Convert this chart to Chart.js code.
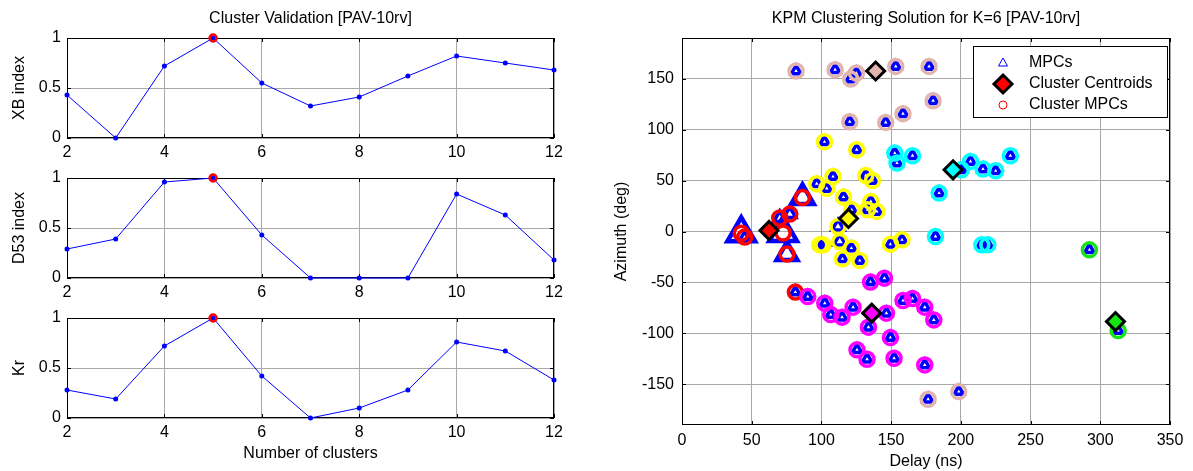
<!DOCTYPE html>
<html>
<head>
<meta charset="utf-8">
<title>Cluster Validation / KPM Clustering</title>
<script src="https://cdn.jsdelivr.net/npm/chart.js@4.4.0/dist/chart.umd.min.js"></script>
<style>
  body { margin: 0; background: #fff; }
  #wrap { position: relative; width: 1193px; height: 471px; }
  canvas { position: absolute; }
</style>
</head>
<body>
<div id="wrap">
  <canvas id="xb" width="600" height="160" style="left:0;top:0"></canvas>
  <canvas id="d53" width="600" height="140" style="left:0;top:160px"></canvas>
  <canvas id="kr" width="600" height="171" style="left:0;top:300px"></canvas>
  <canvas id="kpm" width="593" height="471" style="left:600px;top:0"></canvas>
</div>

<script>
// ---- cluster validation (left) ----
var nClusters = [2, 3, 4, 5, 6, 7, 8, 9, 10, 11, 12];
var xbIndex  = [0.43, 0, 0.72, 1, 0.55, 0.32, 0.41, 0.62, 0.82, 0.75, 0.68];
var d53Index = [0.29, 0.39, 0.96, 1, 0.43, 0, 0, 0, 0.84, 0.63, 0.18];
var krIndex  = [0.28, 0.19, 0.72, 1, 0.42, 0, 0.10, 0.28, 0.76, 0.67, 0.38];
var bestK = 5;
var kTicks = [2, 4, 6, 8, 10, 12];
var indexTicks = [0, 0.5, 1];

// ---- KPM clustering solution (right) ----
// one row per cluster: red, yellow, cyan, pink, magenta, green
var mpcDelay = [
  42.5, 45.0, 72.5, 70.1, 77.3, 75.3, 86.4, 81.3,
  102.2, 125.3, 108.3, 96.6, 103.8, 115.8, 131.8, 136.6, 135.4, 133.0, 139.7, 121.7, 111.9, 98.8, 101.1, 113.1, 121.5, 115.1, 127.5, 149.5, 157.8,
  152.6, 154.2, 165.3, 184.4, 200.4, 206.9, 215.9, 225.0, 235.5, 181.8, 215.0, 219.3,
  81.8, 109.8, 121.0, 125.1, 153.3, 177.2, 180.1, 158.5, 146.1, 120.3, 176.5, 198.5,
  135.2, 145.2, 90.2, 102.4, 106.7, 114.8, 122.7, 146.6, 133.7, 158.5, 165.3, 174.1, 180.6, 149.5, 125.5, 132.7, 152.1, 174.1,
  292.2, 312.8
];
var mpcAzimuth = [
  -1.8, -5.5, -1.5, 13.2, 17.1, -22.2, 33.4, -59.5,
  88.1, 80.3, 54.0, 46.9, 42.3, 33.8, 55.0, 50.1, 29.5, 21.3, 19.7, 21.3, 4.9, -13.1, -13.1, -9.8, -16.3, -26.8, -28.5, -12.4, -8.2,
  77.0, 67.2, 74.4, 37.7, 60.6, 68.8, 61.3, 59.6, 74.4, -4.9, -13.1, -13.1,
  157.6, 158.9, 149.8, 155.6, 162.1, 162.1, 128.4, 115.7, 107.1, 107.8, -164.7, -157.2,
  -49.7, -45.8, -63.9, -70.4, -81.6, -84.1, -74.3, -80.2, -93.9, -67.8, -65.8, -74.3, -86.8, -104.2, -116.2, -125.4, -124.4, -131.0,
  -18.0, -97.3
];
var mpcSize = [
  16, 5.5, 16, 7, 7, 12, 13, 5.5,
  5.5, 5.5, 5.5, 5.5, 5.5, 5.5, 5.5, 5.5, 5.5, 5.5, 5.5, 5.5, 7, 5.5, 5.5, 7, 5.5, 5.5, 5.5, 5.5, 5.5,
  5.5, 5.5, 5.5, 5.5, 5.5, 5.5, 5.5, 5.5, 5.5, 5.5, 5.5, 5.5,
  5.5, 5.5, 5.5, 5.5, 5.5, 5.5, 5.5, 5.5, 5.5, 5.5, 5.5, 5.5,
  5.5, 5.5, 5.5, 5.5, 5.5, 5.5, 5.5, 5.5, 5.5, 5.5, 5.5, 5.5, 5.5, 5.5, 5.5, 5.5, 5.5, 5.5,
  5.5, 5.5
];
var mpcCluster = [
  0, 0, 0, 0, 0, 0, 0, 0,
  1, 1, 1, 1, 1, 1, 1, 1, 1, 1, 1, 1, 1, 1, 1, 1, 1, 1, 1, 1, 1,
  2, 2, 2, 2, 2, 2, 2, 2, 2, 2, 2, 2,
  3, 3, 3, 3, 3, 3, 3, 3, 3, 3, 3, 3,
  4, 4, 4, 4, 4, 4, 4, 4, 4, 4, 4, 4, 4, 4, 4, 4, 4, 4,
  5, 5
];
var centroidDelay   = [62.4, 119.4, 194.4, 138.9, 136.1, 310.9];
var centroidAzimuth = [1.0, 12.8, 60.6, 157.6, -80.2, -88.4];
var clusterColors = ['#ff0000', '#ffff00', '#00ffff', '#e2b4ae', '#ff00ff', '#14e614'];
var delayTicks = [0, 50, 100, 150, 200, 250, 300, 350];
var azimuthTicks = [-150, -100, -50, 0, 50, 100, 150];
var legendLabels = ['MPCs', 'Cluster Centroids', 'Cluster MPCs'];

Chart.defaults.font.family = 'Liberation Sans, Arial, sans-serif';
Chart.defaults.font.size = 16;
Chart.defaults.color = '#000';

var gridColor = '#a8a8a8';

// matlab-like box with inward ticks, drawn under the data
var boxPlugin = {
  id: 'box',
  beforeDatasetsDraw: function(chart) {
    var a = chart.chartArea, ctx = chart.ctx;
    var xs = chart.scales.x, ys = chart.scales.y;
    ctx.save();
    ctx.strokeStyle = '#000';
    ctx.lineWidth = 1;
    ctx.strokeRect(a.left + 0.5, a.top + 0.5, a.right - a.left - 1, a.bottom - a.top - 1);
    ctx.beginPath();
    xs.ticks.forEach(function(t) {
      var p = Math.round(xs.getPixelForValue(t.value)) + 0.5;
      ctx.moveTo(p, a.top); ctx.lineTo(p, a.top + 4);
      ctx.moveTo(p, a.bottom); ctx.lineTo(p, a.bottom - 4);
    });
    ys.ticks.forEach(function(t) {
      var p = Math.round(ys.getPixelForValue(t.value)) + 0.5;
      ctx.moveTo(a.left, p); ctx.lineTo(a.left + 4, p);
      ctx.moveTo(a.right, p); ctx.lineTo(a.right - 4, p);
    });
    ctx.stroke();
    ctx.restore();
  }
};

function plainTick(v) { return String(v); }

function indexChart(id, values, yLabel, opts) {
  var pts = nClusters.map(function(k, i) { return {x: k, y: values[i]}; });
  var best = pts.filter(function(p) { return p.x === bestK; });
  new Chart(document.getElementById(id), {
    type: 'scatter',
    data: {
      datasets: [
        { data: best, showLine: false, pointRadius: 3.5, pointBorderWidth: 2.5,
          pointBorderColor: '#ff0000', pointBackgroundColor: 'rgba(0,0,0,0)', clip: false },
        { data: pts, showLine: true, borderColor: '#0000ff', borderWidth: 1,
          pointRadius: 2.5, pointBorderWidth: 0, pointBackgroundColor: '#0000ff', clip: false }
      ]
    },
    options: {
      responsive: false,
      animation: false,
      events: [],
      layout: { padding: { top: opts.top, right: 46, left: 0, bottom: 0 } },
      plugins: {
        legend: { display: false },
        tooltip: { enabled: false },
        title: {
          display: !!opts.title, text: opts.title || '', fullSize: false,
          font: { size: 16, weight: 'normal' }, padding: { top: 9, bottom: 9.8 }
        }
      },
      scales: {
        x: {
          type: 'linear', min: 2, max: 12,
          afterBuildTicks: function(s) { s.ticks = kTicks.map(function(v) { return {value: v}; }); },
          afterFit: function(s) { s.height = opts.xh; },
          grid: { color: gridColor, drawTicks: false },
          border: { display: false },
          ticks: { padding: 5, maxRotation: 0, autoSkip: false, callback: plainTick },
          title: { display: !!opts.xTitle, text: opts.xTitle || '', padding: { top: 0, bottom: 7.4 } }
        },
        y: {
          min: 0, max: 1,
          afterBuildTicks: function(s) { s.ticks = indexTicks.map(function(v) { return {value: v}; }); },
          afterFit: function(s) { s.width = 67; },
          grid: { color: gridColor, drawTicks: false },
          border: { display: false },
          ticks: { padding: 6, callback: plainTick },
          title: { display: true, text: yLabel, padding: { top: 10, bottom: 0 } }
        }
      }
    },
    plugins: [boxPlugin]
  });
}

indexChart('xb', xbIndex, 'XB index', { top: 0, xh: 22, title: 'Cluster Validation [PAV-10rv]' });
indexChart('d53', d53Index, 'D53 index', { top: 18, xh: 22 });
indexChart('kr', krIndex, 'Kr', { top: 18, xh: 53, xTitle: 'Number of clusters' });

// legend box in the upper right of the plot
var legendPlugin = {
  id: 'kpmLegend',
  afterDraw: function(chart) {
    var ctx = chart.ctx, a = chart.chartArea;
    var bx = a.right - 197, by = a.top + 8, bw = 194, bh = 71;
    var mx = bx + 30, tx = bx + 56;
    var rows = [by + 17, by + 38, by + 59];
    ctx.save();
    ctx.fillStyle = '#fff';
    ctx.fillRect(bx, by, bw, bh);
    ctx.strokeStyle = '#000';
    ctx.lineWidth = 1;
    ctx.strokeRect(bx + 0.5, by + 0.5, bw, bh);

    // triangle
    ctx.beginPath();
    ctx.strokeStyle = '#0000ff';
    ctx.moveTo(mx, rows[0] - 5);
    ctx.lineTo(mx + 4.5, rows[0] + 3);
    ctx.lineTo(mx - 4.5, rows[0] + 3);
    ctx.closePath();
    ctx.stroke();
    // diamond
    ctx.beginPath();
    ctx.moveTo(mx, rows[1] - 9);
    ctx.lineTo(mx + 9, rows[1]);
    ctx.lineTo(mx, rows[1] + 9);
    ctx.lineTo(mx - 9, rows[1]);
    ctx.closePath();
    ctx.fillStyle = '#ff0000';
    ctx.fill();
    ctx.lineWidth = 3;
    ctx.strokeStyle = '#000';
    ctx.stroke();
    // circle
    ctx.beginPath();
    ctx.lineWidth = 1;
    ctx.strokeStyle = '#ff0000';
    ctx.arc(mx, rows[2], 4, 0, Math.PI * 2);
    ctx.stroke();

    ctx.fillStyle = '#000';
    ctx.font = '16px Liberation Sans, Arial, sans-serif';
    ctx.textBaseline = 'middle';
    legendLabels.forEach(function(t, i) { ctx.fillText(t, tx, rows[i]); });
    ctx.restore();
  }
};

var mpcPoints = mpcDelay.map(function(d, i) { return {x: d, y: mpcAzimuth[i]}; });
var centroidPoints = centroidDelay.map(function(d, i) { return {x: d, y: centroidAzimuth[i]}; });

new Chart(document.getElementById('kpm'), {
  type: 'scatter',
  data: {
    datasets: [
      { label: 'Cluster Centroids', data: centroidPoints, pointStyle: 'rectRot', pointRadius: 9,
        pointBorderWidth: 3, pointBorderColor: '#000', pointBackgroundColor: clusterColors, clip: false },
      { label: 'Cluster MPCs', data: mpcPoints, pointStyle: 'circle', pointRadius: 7, pointBorderWidth: 3.5,
        pointBorderColor: mpcCluster.map(function(c) { return clusterColors[c]; }),
        pointBackgroundColor: 'rgba(0,0,0,0)', clip: false },
      { label: 'MPCs', data: mpcPoints, pointStyle: 'triangle', pointRadius: mpcSize,
        pointBorderWidth: mpcSize.map(function(s) { return s > 10 ? 4.5 : 3.5; }),
        pointBorderColor: '#0000ff', pointBackgroundColor: 'rgba(0,0,0,0)', clip: false }
    ]
  },
  options: {
    responsive: false,
    animation: false,
    events: [],
    layout: { padding: { top: 0, right: 23, left: 0, bottom: 0 } },
    plugins: {
      legend: { display: false },
      tooltip: { enabled: false },
      title: {
        display: true, text: 'KPM Clustering Solution for K=6 [PAV-10rv]', fullSize: false,
        font: { size: 16, weight: 'normal' }, padding: { top: 9, bottom: 9.8 }
      }
    },
    scales: {
      x: {
        type: 'linear', min: 0, max: 350,
        afterBuildTicks: function(s) { s.ticks = delayTicks.map(function(v) { return {value: v}; }); },
        afterFit: function(s) { s.height = 46; },
        grid: { color: gridColor, drawTicks: false },
        border: { display: false },
        ticks: { padding: 6, maxRotation: 0, autoSkip: false, callback: plainTick },
        title: { display: true, text: 'Delay (ns)', padding: { top: 0, bottom: 0 } }
      },
      y: {
        min: -190, max: 190,
        afterBuildTicks: function(s) { s.ticks = azimuthTicks.map(function(v) { return {value: v}; }); },
        afterFit: function(s) { s.width = 82; },
        grid: { color: gridColor, drawTicks: false },
        border: { display: false },
        ticks: { padding: 8, callback: plainTick },
        title: { display: true, text: 'Azimuth (deg)', padding: { top: 12.4, bottom: 0 } }
      }
    }
  },
  plugins: [boxPlugin, legendPlugin]
});
</script>
</body>
</html>
